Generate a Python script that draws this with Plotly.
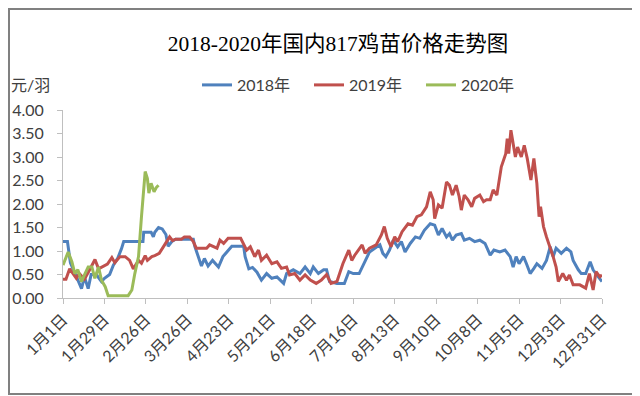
import plotly.graph_objects as go

# x tick labels (day index from 1月1日, one tick every 28 days)
tick_days = [0, 28, 56, 84, 112, 140, 168, 196, 224, 252, 280, 308, 336, 364]
tick_labels = ["1月1日", "1月29日", "2月26日", "3月26日", "4月23日", "5月21日", "6月18日",
               "7月16日", "8月13日", "9月10日", "10月8日", "11月5日", "12月3日", "12月31日"]

# 2018
days_2018 = [0, 3, 5, 8, 10.5, 12.5, 14.5, 17, 19, 22.5, 26, 28, 31.5, 34, 37, 39.5, 41, 54, 54.5,
             59.5, 61, 62, 64.5, 67, 69.5, 71, 73.5, 76, 88, 89, 91, 93.5, 95.5, 98, 101, 105, 108,
             111.5, 114, 122, 123, 125.5, 128, 131, 134, 137.5, 141, 144.5, 149, 151, 155.5, 160,
             163.5, 167, 169, 172.5, 176, 178, 180, 185, 190, 193, 196, 200, 203, 207, 212, 214,
             216, 218, 220.5, 223, 226, 228.5, 231, 234.5, 238, 241, 244, 248, 251, 253.5, 256,
             259, 261, 263, 265.5, 269, 271, 274.5, 278, 281.5, 285, 288.5, 291, 295, 298.5, 302,
             304, 306, 308, 311, 313, 315.5, 318, 320, 323.5, 326.5, 329, 331, 333, 336.5, 340,
             343, 344.5, 348, 350, 353, 356, 358, 361.5, 364]
vals_2018 = [1.2, 1.2, 0.75, 0.55, 0.35, 0.2, 0.45, 0.2, 0.5, 0.5, 0.35, 0.42, 0.5, 0.7, 0.85, 1.05,
             1.2, 1.2, 1.4, 1.4, 1.3, 1.4, 1.5, 1.47, 1.35, 1.1, 1.2, 1.25, 1.25, 1.1, 0.92, 0.68,
             0.84, 0.68, 0.8, 0.66, 0.88, 1.02, 1.1, 1.1, 0.88, 0.62, 0.65, 0.55, 0.38, 0.52, 0.42,
             0.45, 0.31, 0.52, 0.6, 0.52, 0.66, 0.52, 0.66, 0.52, 0.6, 0.6, 0.35, 0.31, 0.31, 0.56,
             0.52, 0.52, 0.73, 0.98, 1.09, 1.13, 0.95, 0.88, 1.02, 1.23, 1.09, 1.2, 0.98, 1.16, 1.3,
             1.27, 1.44, 1.58, 1.55, 1.34, 1.48, 1.3, 1.37, 1.23, 1.34, 1.37, 1.23, 1.27, 1.2, 1.23,
             1.16, 0.91, 1.02, 0.98, 1.02, 0.88, 0.66, 0.88, 0.73, 0.88, 0.73, 0.52, 0.63, 0.73,
             0.63, 0.8, 1.09, 0.88, 1.06, 0.95, 1.06, 0.98, 0.8, 0.6, 0.52, 0.52, 0.77, 0.6, 0.45,
             0.35]

# 2019
days_2019 = [0, 2, 4.5, 7, 9, 11, 14.5, 18, 21.6, 24, 27, 30, 33, 35, 38.5, 42, 45, 47.5, 51, 53,
             55.5, 57, 60, 62, 65, 67, 70, 72, 74, 76, 80, 82, 85.5, 88, 90, 97, 99, 104, 106,
             108.5, 111.5, 120, 122, 124, 126.5, 129.5, 132, 134, 137.5, 141, 144.5, 147.5, 151,
             153, 156.5, 160, 163.5, 167, 171, 174.5, 178, 181, 185, 187, 189, 193, 195, 197, 202,
             204, 207, 211.5, 215, 217, 219, 221.5, 224, 226, 229, 233, 236, 239, 242, 245.5, 248,
             250, 251, 253.5, 256, 259, 261, 263, 265.5, 267.5, 269, 271, 273.5, 276, 278, 281.5,
             284, 286, 288.5, 290.5, 293, 296, 299, 300, 301, 302.5, 304, 305.5, 307, 309.5, 311.5,
             313.5, 316, 318, 320, 321.5, 322.5, 324.5, 326.5, 329, 331, 333, 334.5, 337.5, 340,
             342, 344.5, 349, 353, 355.5, 358, 360, 362.5, 364]
vals_2019 = [0.4, 0.4, 0.62, 0.52, 0.42, 0.52, 0.4, 0.6, 0.82, 0.62, 0.67, 0.72, 0.86, 0.75, 0.88,
             0.88, 0.8, 0.62, 0.8, 0.74, 0.9, 0.8, 0.88, 0.9, 0.95, 1.06, 1.2, 1.3, 1.22, 1.25,
             1.25, 1.3, 1.3, 1.2, 1.06, 1.06, 1.13, 1.06, 1.23, 1.16, 1.27, 1.27, 1.16, 1.02, 1.09,
             0.88, 1.02, 0.8, 0.91, 0.73, 0.77, 0.63, 0.66, 0.49, 0.52, 0.38, 0.49, 0.38, 0.31,
             0.38, 0.5, 0.31, 0.35, 0.52, 0.73, 1.02, 0.8, 0.91, 1.13, 0.95, 1.06, 1.13, 1.34, 1.52,
             1.27, 1.09, 1.3, 1.2, 1.41, 1.58, 1.55, 1.73, 1.77, 1.94, 2.26, 2.09, 1.69, 1.98, 1.91,
             2.47, 2.4, 2.19, 2.4, 2.16, 1.87, 2.19, 2.09, 1.94, 2.12, 2.19, 2.05, 2.09, 2.09, 2.3,
             2.19, 2.79, 3.07, 3.39, 3.07, 3.57, 3.28, 3.0, 3.21, 3.0, 3.25, 2.97, 2.51, 2.97, 2.44,
             1.73, 1.94, 1.52, 1.3, 1.09, 0.88, 0.66, 0.35, 0.52, 0.38, 0.49, 0.28, 0.28, 0.21,
             0.52, 0.17, 0.56, 0.45, 0.49]

# 2020
days_2020 = [0, 3.5, 6, 8, 10, 12.5, 14.5, 17, 19.5, 21.5, 24, 26, 28.5, 30.5, 44, 46.5, 48.5, 51,
             53, 54.3, 55.5, 57, 58, 59.5, 61.5, 63, 64.5]
vals_2020 = [0.7, 0.98, 0.77, 0.52, 0.6, 0.35, 0.49, 0.66, 0.66, 0.42, 0.66, 0.38, 0.24, 0.05,
             0.05, 0.17, 0.52, 0.88, 1.73, 2.3, 2.69, 2.54, 2.23, 2.44, 2.26, 2.35, 2.4]

series = [("2018年", days_2018, vals_2018, "#4F81BD"),
          ("2019年", days_2019, vals_2019, "#C0504D"),
          ("2020年", days_2020, vals_2020, "#9BBB59")]

FONT = "Lato, 'Noto Sans CJK SC', sans-serif"

fig = go.Figure()
for name, d, v, c in series:
    fig.add_trace(go.Scatter(x=d, y=v, mode="lines", name=name,
                             line=dict(color=c, width=3)))

# page has an 8px body margin: figure coords = page coords - 8
OFF = 8
W, H = 640 - OFF, 396 - OFF
L, T = 63 - OFF, 110 - OFF
R = W - (602 - OFF)
B = H - (298 - OFF)
pw, ph = W - L - R, H - T - B

def px_x(px):  # page px -> paper
    return (px - OFF - L) / pw

def px_y(py):
    return (H - B - (py - OFF)) / ph

fig.update_layout(
    width=W, height=H,
    margin=dict(l=L, r=R, t=T, b=B, autoexpand=False),
    paper_bgcolor="white", plot_bgcolor="white",
    font=dict(family=FONT, size=16, color="#404040"),
    title=dict(text="2018-2020年国内817鸡苗价格走势图",
               font=dict(family="'Liberation Serif', 'Noto Sans CJK SC', serif", size=21.5, color="#000000"),
               x=(338 - OFF) / W, xref="container", xanchor="center",
               y=1 - (43 - OFF) / H, yref="container", yanchor="middle"),
    showlegend=True,
    legend=dict(orientation="h", x=px_x(197), xanchor="left", y=px_y(85), yanchor="middle",
                font=dict(size=16, color="#404040"), itemwidth=30,
                entrywidth=67, entrywidthmode="pixels", bgcolor="rgba(0,0,0,0)"),
    xaxis=dict(range=[0, 364], tickmode="array", tickvals=tick_days, ticktext=tick_labels,
               tickangle=-45, showgrid=False, zeroline=False, showline=True, automargin=False,
               linecolor="#BFBFBF", linewidth=1, ticks="outside", ticklen=5, tickcolor="#BFBFBF",
               tickfont=dict(size=16, color="#404040")),
    yaxis=dict(range=[0, 4], dtick=0.5, tickformat=".2f", showgrid=False, zeroline=False,
               showline=True, automargin=False, linecolor="#BFBFBF", linewidth=1, ticks="outside",
               ticklen=5, tickcolor="#BFBFBF", ticklabelstandoff=10,
               tickfont=dict(size=16, color="#404040")),
    annotations=[dict(text="元/羽", x=px_x(30), y=px_y(85), xref="paper", yref="paper",
                      showarrow=False, xanchor="center", yanchor="middle",
                      font=dict(size=16, color="#404040"))],
    shapes=[dict(type="rect", xref="paper", yref="paper",
                 x0=px_x(OFF + 1), x1=px_x(637), y0=px_y(394), y1=px_y(OFF + 1),
                 line=dict(color="#808080", width=2), layer="below")],
)

fig.write_html("out.html")
